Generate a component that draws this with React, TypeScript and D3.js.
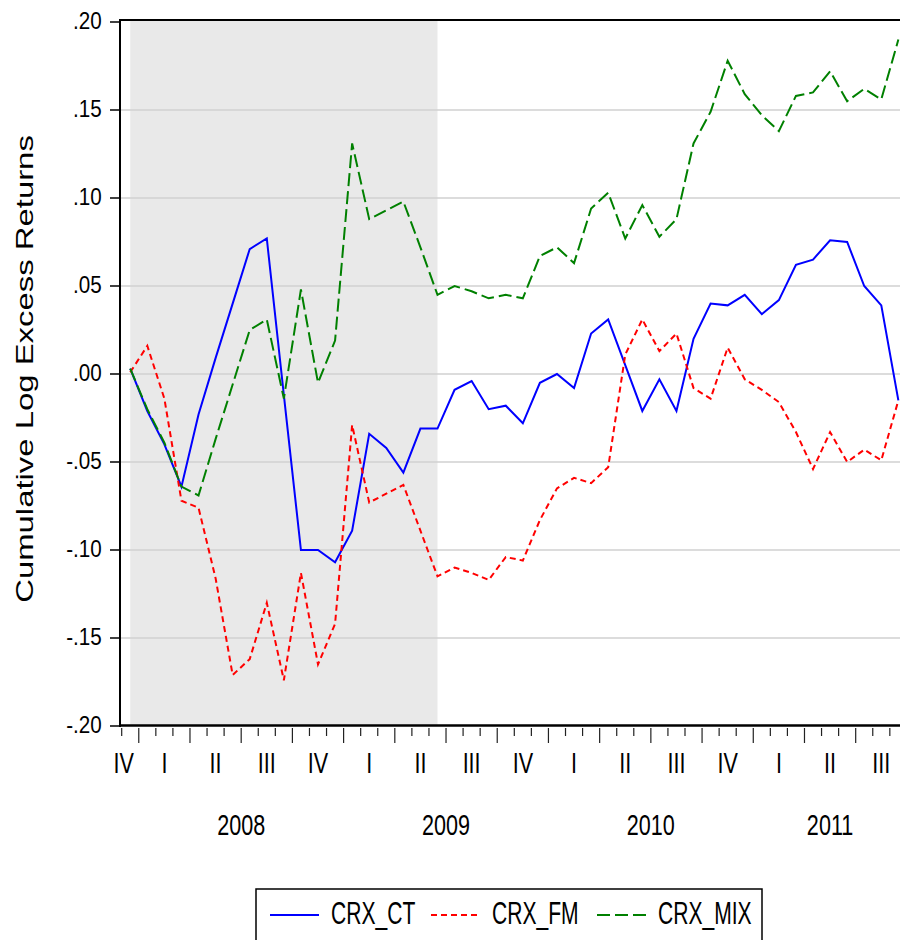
import React from 'react'
import * as d3 from 'd3'

// monthly data, first observation is December 2007
const startYear = 2007
const startMonth = 11

const crxCT = [
  0.003, -0.021, -0.040, -0.064, -0.023, 0.009, 0.040, 0.071, 0.077, -0.012,
  -0.100, -0.100, -0.107, -0.089, -0.034, -0.042, -0.056, -0.031, -0.031, -0.009,
  -0.004, -0.020, -0.018, -0.028, -0.005, 0.000, -0.008, 0.023, 0.031, 0.005,
  -0.021, -0.003, -0.021, 0.020, 0.040, 0.039, 0.045, 0.034, 0.042, 0.062,
  0.065, 0.076, 0.075, 0.050, 0.039, -0.015,
]
const crxFM = [
  0.001, 0.016, -0.014, -0.072, -0.076, -0.116, -0.171, -0.162, -0.130, -0.174,
  -0.113, -0.165, -0.142, -0.029, -0.073, -0.068, -0.063, -0.089, -0.115, -0.110,
  -0.113, -0.117, -0.104, -0.106, -0.083, -0.065, -0.059, -0.062, -0.053, 0.011,
  0.031, 0.013, 0.023, -0.008, -0.014, 0.015, -0.003, -0.009, -0.016, -0.033,
  -0.054, -0.033, -0.050, -0.043, -0.049, -0.015,
]
const crxMIX = [
  0.003, -0.020, -0.039, -0.064, -0.069, -0.037, -0.006, 0.025, 0.031, -0.014,
  0.048, -0.005, 0.019, 0.131, 0.088, 0.093, 0.098, 0.072, 0.045, 0.050,
  0.047, 0.043, 0.045, 0.043, 0.067, 0.072, 0.063, 0.094, 0.103, 0.077,
  0.096, 0.078, 0.088, 0.131, 0.149, 0.178, 0.159, 0.147, 0.138, 0.158,
  0.160, 0.172, 0.155, 0.162, 0.156, 0.190,
]

const yTicks = [0.2, 0.15, 0.1, 0.05, 0, -0.05, -0.1, -0.15, -0.2]
const quarterNames = ['I', 'II', 'III', 'IV']
const years = [2008, 2009, 2010, 2011]
// recession shading: from Dec 2007 to Jun 2009 observation
const recessionStart = 0
const recessionEnd = 18

const series = [
  { name: 'CRX_CT', values: crxCT, color: '#0000ff', dash: 'none' },
  { name: 'CRX_FM', values: crxFM, color: '#ff0000', dash: '6,4' },
  { name: 'CRX_MIX', values: crxMIX, color: '#008000', dash: '13,5' },
]

const font = '"Liberation Sans", Arial, sans-serif'

export default function App() {
  const width = 900
  const height = 940
  const n = crxCT.length

  // month boundaries 0..n, observations sit in the middle of each month
  const x = d3.scaleLinear().domain([0, n]).range([121.7, 906.9])
  const y = d3.scaleLinear().domain([-0.2, 0.2]).range([726, 22])

  const line = d3.line<number>()
    .x((d, i) => x(i + 0.5))
    .y(d => y(d))

  // eviews style: .20, -.05
  const fmt = (v: number) => (v < -1e-9 ? '-' : '') + Math.abs(v).toFixed(2).slice(1)

  const monthTicks = d3.range(0, n + 1)
  const isQuarterStart = (k: number) => (startMonth + k) % 3 === 0

  // quarters touching the axis
  const quarters: { label: string, cx: number }[] = []
  for (let k = -((startMonth) % 3); k < n; k += 3) {
    const m = (startMonth + k) % 12
    const q = Math.floor(m / 3)
    const center = Math.max(x(k + 1.5), x(0) + 2)
    quarters.push({ label: quarterNames[q], cx: center })
  }

  const yearLabels = years.map(yr => {
    const s = (yr - startYear) * 12 - startMonth
    const a = Math.max(s, 0)
    const b = Math.min(s + 12, n)
    return { label: String(yr), cx: x((a + b) / 2) }
  })

  return (
    <div style={{ position: 'absolute', left: 0, top: 0 }}>
      <svg width={width} height={height} style={{ display: 'block', background: '#fff' }}>
        {/* recession band */}
        <rect
          x={x(recessionStart + 0.5)}
          y={21}
          width={x(recessionEnd + 0.5) - x(recessionStart + 0.5)}
          height={y(-0.2) - 21}
          fill="#e9e9e9"
        />

        {/* grid */}
        {yTicks.slice(1, -1).map(t => (
          <line key={'g' + t} x1={120} x2={width} y1={y(t)} y2={y(t)} stroke="#d0d0d0" strokeWidth={1.5} />
        ))}

        {/* series */}
        {series.map(s => (
          <path
            key={s.name}
            d={line(s.values) || ''}
            fill="none"
            stroke={s.color}
            strokeWidth={2}
            strokeDasharray={s.dash}
            strokeLinejoin="miter"
          />
        ))}

        {/* frame */}
        <line x1={119} x2={width} y1={20} y2={20} stroke="#000" strokeWidth={2} />
        <line x1={120} x2={120} y1={19} y2={727} stroke="#000" strokeWidth={2} />
        <line x1={119} x2={x(n)} y1={725.5} y2={725.5} stroke="#000" strokeWidth={2.5} />

        {/* y axis */}
        {yTicks.map(t => (
          <g key={'y' + t}>
            <line x1={110} x2={120} y1={y(t)} y2={y(t)} stroke="#000" strokeWidth={1.5} />
            <text
              transform={`translate(101.7,${y(t) + 6.5}) scale(0.885,1)`}
              textAnchor="end"
              fontFamily={font}
              fontSize={23.3}
              fill="#000"
            >{fmt(t)}</text>
          </g>
        ))}
        <text
          transform={`translate(33,369) rotate(-90) scale(1.43,1)`}
          textAnchor="middle"
          fontFamily={font}
          fontSize={23}
          fill="#000"
        >Cumulative Log Excess Returns</text>

        {/* x axis */}
        {monthTicks.map(k => (
          <line
            key={'m' + k}
            x1={x(k)} x2={x(k)}
            y1={728} y2={isQuarterStart(k) ? 743 : 736}
            stroke="#222" strokeWidth={1.2}
          />
        ))}
        {quarters.map((q, i) => (
          <text
            key={'q' + i}
            transform={`translate(${q.cx},773) scale(0.72,1)`}
            textAnchor="middle"
            fontFamily={font}
            fontSize={30}
            fill="#000"
          >{q.label}</text>
        ))}
        {yearLabels.map(yl => (
          <text
            key={yl.label}
            transform={`translate(${yl.cx},835) scale(0.72,1)`}
            textAnchor="middle"
            fontFamily={font}
            fontSize={30}
            fill="#000"
          >{yl.label}</text>
        ))}

        {/* legend */}
        <rect x={256} y={889} width={506} height={70} fill="#fff" stroke="#000" strokeWidth={1.5} />
        {series.map((s, i) => {
          const lx = [270, 431, 597][i]
          return (
            <g key={'l' + s.name}>
              <line x1={lx} x2={lx + 49} y1={915} y2={915} stroke={s.color} strokeWidth={2} strokeDasharray={s.dash} />
              <text
                transform={`translate(${lx + 61},924) scale(0.68,1)`}
                fontFamily={font}
                fontSize={31}
                fill="#000"
              >{s.name}</text>
            </g>
          )
        })}
      </svg>
    </div>
  )
}
